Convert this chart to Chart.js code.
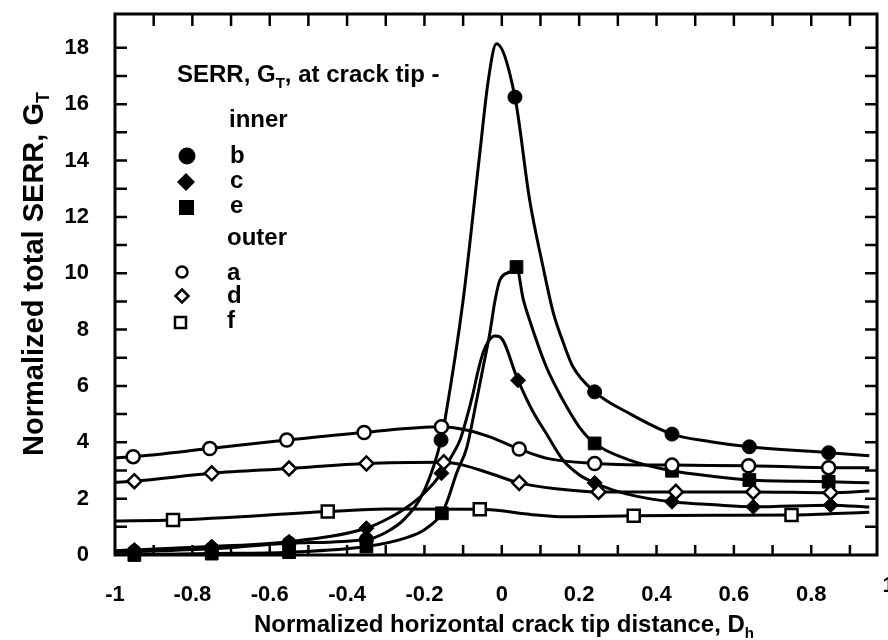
<!DOCTYPE html>
<html>
<head>
<meta charset="utf-8">
<script src="https://cdn.jsdelivr.net/npm/chart.js@4.4.0/dist/chart.umd.min.js"></script>
<style>
  html, body { margin: 0; padding: 0; background: #fff; }
  #wrap { width: 888px; height: 640px; }
</style>
</head>
<body>
<div id="wrap"><canvas id="chart"></canvas></div>
<script>
// Normalized total SERR G_T vs normalized horizontal crack tip distance D_h
// curve points [x, y]
const aCurve = [[-1,3.45],[-0.953,3.49],[-0.755,3.78],[-0.556,4.08],[-0.356,4.35],[-0.156,4.55],[-0.083,4.41],[-0.031,4.19],[0.045,3.76],[0.12,3.42],[0.24,3.25],[0.44,3.19],[0.638,3.17],[0.845,3.10],[0.95,3.1]];
const dCurve = [[-1,2.58],[-0.95,2.62],[-0.75,2.9],[-0.55,3.07],[-0.35,3.25],[-0.15,3.29],[-0.1,3.19],[-0.031,2.9],[0.045,2.56],[0.14,2.35],[0.25,2.24],[0.45,2.24],[0.65,2.24],[0.85,2.21],[0.95,2.27]];
const fCurve = [[-1,1.21],[-0.85,1.24],[-0.45,1.54],[-0.3,1.63],[-0.057,1.62],[0.09,1.42],[0.16,1.36],[0.341,1.39],[0.55,1.41],[0.749,1.42],[0.95,1.52]];
const bCurve = [[-1,0.1],[-0.95,0.12],[-0.75,0.22],[-0.55,0.42],[-0.35,0.55],[-0.3,0.8],[-0.25,1.3],[-0.2,2.3],[-0.157,4.08],[-0.147,4.79],[-0.1,9.04],[-0.057,14.24],[-0.035,16.84],[-0.014,18.14],[0.034,16.25],[0.072,12.6],[0.107,10.2],[0.133,8.6],[0.16,7.5],[0.184,6.68],[0.24,5.79],[0.33,5.02],[0.44,4.29],[0.54,4.02],[0.64,3.84],[0.845,3.63],[0.95,3.52]];
const cCurve = [[-1,0.15],[-0.95,0.18],[-0.75,0.3],[-0.55,0.47],[-0.35,0.95],[-0.3,1.25],[-0.25,1.65],[-0.2,2.2],[-0.156,2.9],[-0.13,3.5],[-0.108,4.08],[-0.09,4.9],[-0.075,5.7],[-0.062,6.5],[-0.048,7.2],[-0.033,7.62],[-0.018,7.77],[-0.005,7.74],[0.042,6.2],[0.08,5.1],[0.115,4.31],[0.158,3.37],[0.2,2.85],[0.24,2.56],[0.288,2.3],[0.35,2.08],[0.44,1.89],[0.55,1.78],[0.65,1.71],[0.85,1.77],[0.95,1.7]];
const eCurve = [[-1,0.0],[-0.95,0.02],[-0.75,0.05],[-0.55,0.1],[-0.35,0.3],[-0.25,0.6],[-0.2,0.9],[-0.155,1.48],[-0.14,1.95],[-0.117,2.9],[-0.09,3.84],[-0.065,5.5],[-0.048,6.68],[-0.031,7.87],[-0.018,9.0],[-0.005,9.75],[0.021,10.05],[0.038,10.22],[0.055,9.1],[0.072,8.33],[0.115,6.68],[0.158,5.5],[0.2,4.55],[0.24,3.96],[0.33,3.37],[0.44,2.99],[0.54,2.8],[0.64,2.66],[0.845,2.6],[0.95,2.56]];

// marker positions [x, y]
const aMarks = [[-0.953,3.49],[-0.755,3.78],[-0.556,4.08],[-0.356,4.35],[-0.156,4.55],[0.045,3.76],[0.24,3.25],[0.44,3.19],[0.638,3.17],[0.845,3.10]];
const dMarks = [[-0.95,2.62],[-0.75,2.9],[-0.55,3.07],[-0.35,3.25],[-0.15,3.29],[0.045,2.56],[0.25,2.24],[0.45,2.24],[0.65,2.24],[0.85,2.21]];
const fMarks = [[-0.85,1.24],[-0.45,1.54],[-0.057,1.62],[0.341,1.39],[0.749,1.42]];
const bMarks = [[-0.95,0.12],[-0.75,0.22],[-0.55,0.42],[-0.35,0.55],[-0.157,4.08],[0.034,16.25],[0.24,5.79],[0.44,4.29],[0.64,3.84],[0.845,3.63]];
const cMarks = [[-0.95,0.18],[-0.75,0.3],[-0.55,0.47],[-0.35,0.95],[-0.156,2.9],[0.042,6.2],[0.24,2.56],[0.44,1.89],[0.65,1.71],[0.85,1.77]];
const eMarks = [[-0.95,0.0],[-0.75,0.05],[-0.55,0.1],[-0.35,0.3],[-0.155,1.48],[0.038,10.22],[0.24,3.96],[0.44,2.99],[0.64,2.66],[0.845,2.6]];

const xMin = -1, xMax = 0.97;
const yMin = 0, yMax = 19.2;

const FONT = '"Liberation Sans", Arial, sans-serif';

function pts(arr) {
    return arr.map(p => ({ x: p[0], y: p[1] }));
}

function curve(arr) {
    return {
        data: pts(arr),
        showLine: true,
        borderColor: '#000',
        borderWidth: 3,
        pointRadius: 0,
        cubicInterpolationMode: 'monotone',
        order: 2
    };
}

function marks(arr, style, radius, filled) {
    return {
        data: pts(arr),
        showLine: false,
        pointStyle: style,
        pointRadius: radius,
        pointBackgroundColor: filled ? '#000' : '#fff',
        pointBorderColor: '#000',
        pointBorderWidth: filled ? 1 : 2.5,
        clip: false,
        order: 1
    };
}

// draw a row of text pieces (for subscripts)
function richText(ctx, pieces, x, y, align) {
    let total = 0;
    pieces.forEach(p => { ctx.font = p.font; total += ctx.measureText(p.t).width; });
    let cx = align === 'center' ? x - total / 2 : x;
    pieces.forEach(p => {
        ctx.font = p.font;
        ctx.fillText(p.t, cx, y + (p.dy || 0));
        cx += ctx.measureText(p.t).width;
    });
}

const big = 'bold 24px ' + FONT;
const small = 'bold 15px ' + FONT;
const yTitle = 'bold 29px ' + FONT;
const ySmall = 'bold 18px ' + FONT;

const framePlugin = {
    id: 'frame',
    afterDraw(chart) {
        const { ctx, chartArea: ca, scales: { x, y } } = chart;
        ctx.save();
        ctx.strokeStyle = '#000';
        ctx.lineWidth = 3;
        ctx.strokeRect(ca.left, ca.top, ca.right - ca.left, ca.bottom - ca.top);

        // inward ticks on all four sides
        ctx.lineWidth = 2.5;
        ctx.beginPath();
        x.ticks.forEach(t => {
            const px = x.getPixelForValue(t.value);
            if (px < ca.left + 6 || px > ca.right - 6) return;
            ctx.moveTo(px, ca.bottom); ctx.lineTo(px, ca.bottom - 10);
            ctx.moveTo(px, ca.top); ctx.lineTo(px, ca.top + 12);
        });
        y.ticks.forEach(t => {
            const py = y.getPixelForValue(t.value);
            if (py < ca.top + 6 || py > ca.bottom - 6) return;
            ctx.moveTo(ca.left, py); ctx.lineTo(ca.left + 12, py);
            ctx.moveTo(ca.right, py); ctx.lineTo(ca.right - 12, py);
        });
        ctx.stroke();

        ctx.fillStyle = '#000';
        ctx.textBaseline = 'alphabetic';

        // the "1" label cut off at the right edge
        ctx.font = 'bold 22px ' + FONT;
        ctx.textAlign = 'center';
        ctx.fillText('1', x.getPixelForValue(1), 592);
        ctx.textAlign = 'left';

        // axis titles
        richText(ctx, [
            { t: 'Normalized horizontal crack tip distance, D', font: big },
            { t: 'h', font: small, dy: 6 }
        ], 504, 632, 'center');

        ctx.save();
        ctx.translate(43, 274);
        ctx.rotate(-Math.PI / 2);
        richText(ctx, [
            { t: 'Normalized total SERR, G', font: yTitle },
            { t: 'T', font: ySmall, dy: 6 }
        ], 0, 0, 'center');
        ctx.restore();

        // legend
        richText(ctx, [
            { t: 'SERR, G', font: big },
            { t: 'T', font: small, dy: 6 },
            { t: ', at crack tip -', font: big }
        ], 177, 82, 'left');
        ctx.font = big;
        ctx.fillText('inner', 229, 127);
        ctx.fillText('b', 230, 163);
        ctx.fillText('c', 230, 188);
        ctx.fillText('e', 230, 213);
        ctx.fillText('outer', 227, 245);
        ctx.fillText('a', 227, 280);
        ctx.fillText('d', 227, 303);
        ctx.fillText('f', 227, 328);

        // legend symbols
        ctx.beginPath(); ctx.arc(187, 156, 8.5, 0, Math.PI * 2); ctx.fill();
        ctx.beginPath();
        ctx.moveTo(186, 173); ctx.lineTo(195, 182); ctx.lineTo(186, 191); ctx.lineTo(177, 182);
        ctx.closePath(); ctx.fill();
        ctx.fillRect(179, 200, 15, 15);

        ctx.lineWidth = 2.5;
        ctx.fillStyle = '#fff';
        ctx.beginPath(); ctx.arc(182, 272, 5.5, 0, Math.PI * 2); ctx.fill(); ctx.stroke();
        ctx.beginPath();
        ctx.moveTo(182, 289.5); ctx.lineTo(188.5, 296); ctx.lineTo(182, 302.5); ctx.lineTo(175.5, 296);
        ctx.closePath(); ctx.fill(); ctx.stroke();
        ctx.beginPath(); ctx.rect(175, 317, 11, 11); ctx.fill(); ctx.stroke();
        ctx.restore();
    }
};

new Chart(document.getElementById('chart'), {
    type: 'scatter',
    data: {
        datasets: [
            curve(aCurve), curve(dCurve), curve(fCurve),
            curve(bCurve), curve(cCurve), curve(eCurve),
            marks(aMarks, 'circle', 6.5, false),
            marks(dMarks, 'rectRot', 7, false),
            marks(fMarks, 'rect', 8.5, false),
            marks(bMarks, 'circle', 7, true),
            marks(cMarks, 'rectRot', 7.5, true),
            marks(eMarks, 'rect', 9, true)
        ]
    },
    options: {
        responsive: true,
        maintainAspectRatio: false,
        animation: false,
        devicePixelRatio: 1,
        layout: { padding: { top: 14, right: 11, left: 0, bottom: 0 } },
        plugins: {
            legend: { display: false },
            tooltip: { enabled: false }
        },
        scales: {
            x: {
                type: 'linear',
                min: xMin,
                max: xMax,
                grid: { display: false },
                border: { display: false },
                afterFit(scale) {
                    scale.height = 85;
                    scale.paddingLeft = 0;
                    scale.paddingRight = 0;
                },
                ticks: {
                    stepSize: 0.1,
                    includeBounds: false,
                    autoSkip: false,
                    maxRotation: 0,
                    minRotation: 0,
                    padding: 19,
                    color: '#000',
                    font: { family: FONT, size: 22, weight: 'bold' },
                    callback: v => {
                        const k = Math.round(v * 10);
                        return k % 2 === 0 ? String(k / 10) : '';
                    }
                }
            },
            y: {
                type: 'linear',
                min: yMin,
                max: yMax,
                grid: { display: false },
                border: { display: false },
                afterFit(scale) {
                    scale.width = 115;
                    scale.paddingTop = 0;
                    scale.paddingBottom = 0;
                },
                ticks: {
                    stepSize: 1,
                    includeBounds: false,
                    autoSkip: false,
                    padding: 18,
                    color: '#000',
                    font: { family: FONT, size: 22, weight: 'bold' },
                    callback: v => {
                        const k = Math.round(v);
                        return k % 2 === 0 ? String(k) : '';
                    }
                }
            }
        }
    },
    plugins: [framePlugin]
});
</script>
</body>
</html>
